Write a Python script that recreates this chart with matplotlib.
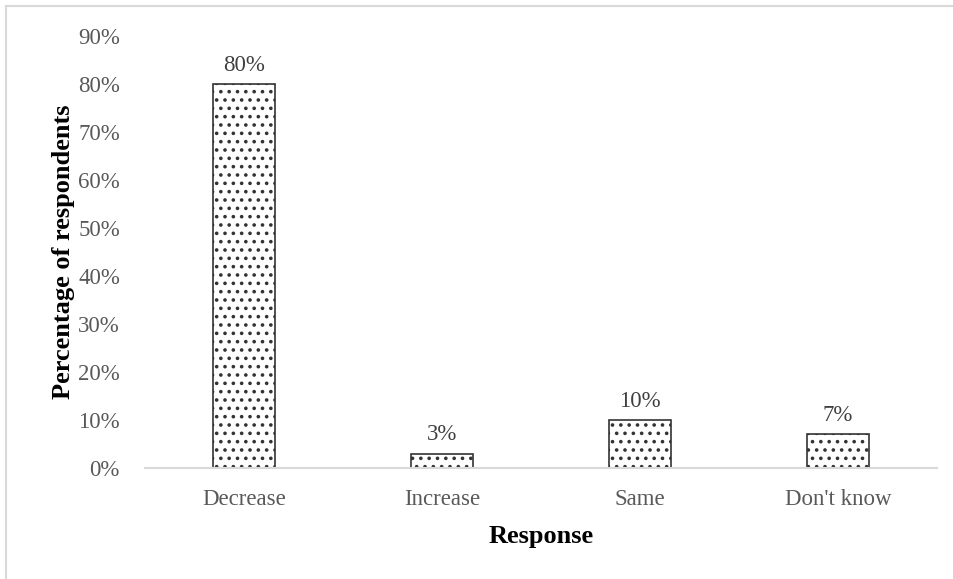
import matplotlib
matplotlib.use("Agg")
import matplotlib.pyplot as plt
from matplotlib.lines import Line2D

categories = ["Decrease", "Increase", "Same", "Don't know"]
values = [80, 3, 10, 7]
yticks = [0, 10, 20, 30, 40, 50, 60, 70, 80, 90]

plt.rcParams["font.family"] = ["Liberation Serif", "DejaVu Serif"]
plt.rcParams["hatch.linewidth"] = 1.4
plt.rcParams["hatch.color"] = "black"

W, H = 954, 579
fig = plt.figure(figsize=(W / 100, H / 100), dpi=100)
ax = fig.add_axes([145 / W, 1 - 468 / H, (937 - 145) / W, (468 - 36) / H])

x = range(len(categories))
bars = ax.bar(x, values, width=0.31, color="white", edgecolor="#333333",
              linewidth=1.2, hatch="..")
for b, v in zip(bars, values):
    ax.annotate(f"{v}%", (b.get_x() + b.get_width() / 2, v),
                xytext=(0, 6), textcoords="offset points",
                ha="center", va="bottom", fontsize=16.5, color="#404040")

ax.set_xlim(-0.5, len(categories) - 0.5)
ax.set_ylim(0, 90)
ax.set_yticks(yticks)
ax.set_yticklabels([f"{t}%" for t in yticks])
ax.set_xticks(list(x))
ax.set_xticklabels(categories)
ax.tick_params(axis="both", length=0, labelsize=16.5, labelcolor="#595959")
ax.tick_params(axis="y", pad=18)
ax.tick_params(axis="x", pad=15)

for s in ["top", "right", "left"]:
    ax.spines[s].set_visible(False)
ax.spines["bottom"].set_color("#d9d9d9")
ax.spines["bottom"].set_linewidth(1.5)

ax.set_ylabel("Percentage of respondents", fontsize=19, fontweight="bold",
              color="black", labelpad=2)
ax.set_xlabel("Response", fontsize=19, fontweight="bold", color="black",
              labelpad=11)

# outer frame (top and left edges visible)
fig.add_artist(Line2D([6.5 / W, 1], [1 - 5.5 / H, 1 - 5.5 / H],
                      transform=fig.transFigure, color="#d9d9d9", lw=1.5))
fig.add_artist(Line2D([6.5 / W, 6.5 / W], [0, 1 - 5.5 / H],
                      transform=fig.transFigure, color="#d9d9d9", lw=1.5))

fig.savefig("out.png", dpi=100)
